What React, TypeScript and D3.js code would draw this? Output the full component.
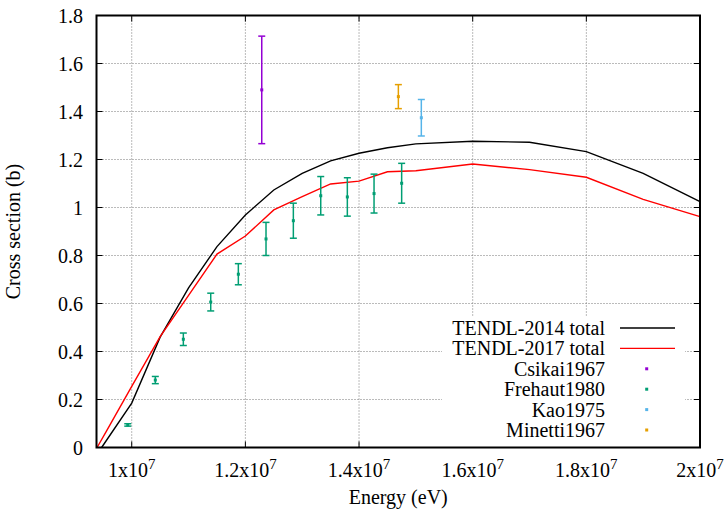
import React from 'react';
import * as d3 from 'd3';

// TENDL-2014 total
const tendl2014E = [9.47e6, 1.0e7, 1.05e7, 1.1e7, 1.15e7, 1.2e7, 1.25e7, 1.3e7, 1.35e7, 1.4e7, 1.45e7, 1.5e7, 1.6e7, 1.7e7, 1.8e7, 1.9e7, 2.0e7];
const tendl2014XS = [0, 0.185, 0.46, 0.665, 0.837, 0.969, 1.073, 1.142, 1.194, 1.226, 1.249, 1.265, 1.276, 1.272, 1.233, 1.1425, 1.024];
// TENDL-2017 total
const tendl2017E = [9.39e6, 9.55e6, 1.0e7, 1.05e7, 1.1e7, 1.15e7, 1.2e7, 1.25e7, 1.3e7, 1.35e7, 1.4e7, 1.45e7, 1.5e7, 1.6e7, 1.7e7, 1.8e7, 1.9e7, 2.0e7];
const tendl2017XS = [0, 0.066, 0.255, 0.462, 0.634, 0.806, 0.881, 0.99, 1.045, 1.098, 1.11, 1.149, 1.153, 1.181, 1.158, 1.126, 1.034, 0.962];
// Experimental
const csikaiE = [1.2288e7];
const csikaiXS = [1.49];
const csikaiErr = [0.224];
const frehautE = [9.93e6, 1.0415e7, 1.0908e7, 1.139e7, 1.1876e7, 1.2363e7, 1.2844e7, 1.3326e7, 1.3794e7, 1.4264e7, 1.475e7];
const frehautXS = [0.094, 0.281, 0.451, 0.606, 0.722, 0.869, 0.945, 1.049, 1.044, 1.058, 1.101];
const frehautErr = [0.005, 0.015, 0.026, 0.037, 0.044, 0.069, 0.073, 0.08, 0.08, 0.081, 0.083];
const kaoE = [1.5096e7];
const kaoXS = [1.374];
const kaoErr = [0.076];
const minettiE = [1.4692e7];
const minettiXS = [1.462];
const minettiErr = [0.05];

const xTicks = [1.0e7, 1.2e7, 1.4e7, 1.6e7, 1.8e7, 2.0e7];
const xTickMant = ['1', '1.2', '1.4', '1.6', '1.8', '2'];
const yTicks = [0, 0.2, 0.4, 0.6, 0.8, 1.0, 1.2, 1.4, 1.6, 1.8];
const yTickLabels = ['0', '0.2', '0.4', '0.6', '0.8', '1', '1.2', '1.4', '1.6', '1.8'];

const W = 728, H = 510;
const L = 96.5, R = 700, T = 15.5, B = 447.5;
const FONT = '"Liberation Serif", "Times New Roman", serif';
const FS = 20;

export default function App() {
  const x = d3.scaleLinear().domain([9.38e6, 2.0e7]).range([L, R]);
  const y = d3.scaleLinear().domain([0, 1.8]).range([B, T]);
  const line = d3.line<[number, number]>().x(d => x(d[0])).y(d => y(d[1]));
  const d14 = line(tendl2014E.map((e, i) => [e, tendl2014XS[i]]))!;
  const d17 = line(tendl2017E.map((e, i) => [e, tendl2017XS[i]]))!;

  const exps = [
    { name: 'Csikai1967', color: '#9400d3', E: csikaiE, XS: csikaiXS, Err: csikaiErr },
    { name: 'Frehaut1980', color: '#009e73', E: frehautE, XS: frehautXS, Err: frehautErr },
    { name: 'Kao1975', color: '#56b4e9', E: kaoE, XS: kaoXS, Err: kaoErr },
    { name: 'Minetti1967', color: '#e69f00', E: minettiE, XS: minettiXS, Err: minettiErr },
  ];

  const legendTextX = 605;
  const legendRow0 = 328;
  const rowH = 20.4;
  const tickLen = 6;

  return (
    <div style={{ position: 'fixed', left: 0, top: 0, width: W, height: H, background: '#fff' }}>
      <svg width={W} height={H} style={{ display: 'block', fontFamily: FONT }}>
        <rect x={0} y={0} width={W} height={H} fill="#fff" />
        {/* grid */}
        <g stroke="#777" strokeWidth={1} strokeDasharray="1,2">
          {xTicks.filter(t => x(t) < R - 1).map((t, i) => (
            <line key={'gx' + i} x1={x(t)} x2={x(t)} y1={B} y2={T} />
          ))}
          {yTicks.filter(t => y(t) < B - 1 && y(t) > T + 1).map((t, i) => (
            <line key={'gy' + i} x1={L} x2={R} y1={y(t)} y2={y(t)} />
          ))}
        </g>
        {/* ticks */}
        <g stroke="#000" strokeWidth={1}>
          {xTicks.map((t, i) => (
            <g key={'tx' + i}>
              <line x1={x(t)} x2={x(t)} y1={B} y2={B - tickLen} />
              <line x1={x(t)} x2={x(t)} y1={T} y2={T + tickLen} />
            </g>
          ))}
          {yTicks.map((t, i) => (
            <g key={'ty' + i}>
              <line x1={L} x2={L + tickLen} y1={y(t)} y2={y(t)} />
              <line x1={R} x2={R - tickLen} y1={y(t)} y2={y(t)} />
            </g>
          ))}
        </g>
        {/* curves */}
        <path d={d14} fill="none" stroke="#000" strokeWidth={1.4} />
        <path d={d17} fill="none" stroke="#ff0000" strokeWidth={1.4} />
        {/* experimental error bars */}
        {exps.map(s => (
          <g key={s.name} stroke={s.color} fill={s.color} strokeWidth={1.5}>
            {s.E.map((e, i) => {
              const cx = x(e);
              const y1 = y(s.XS[i] + s.Err[i]);
              const y2 = y(s.XS[i] - s.Err[i]);
              const cy = y(s.XS[i]);
              return (
                <g key={i}>
                  <line x1={cx} x2={cx} y1={y1} y2={y2} />
                  <line x1={cx - 3.5} x2={cx + 3.5} y1={y1} y2={y1} />
                  <line x1={cx - 3.5} x2={cx + 3.5} y1={y2} y2={y2} />
                  <rect x={cx - 1.5} y={cy - 1.5} width={3} height={3} stroke="none" />
                </g>
              );
            })}
          </g>
        ))}
        {/* legend */}
        <rect x={442} y={316} width={243} height={B - 316} fill="#fff" />
        <g fontSize={FS} textAnchor="end" fill="#000">
          <text x={legendTextX} y={legendRow0} dy="0.35em">TENDL-2014 total</text>
          <line x1={620} x2={675} y1={legendRow0} y2={legendRow0} stroke="#000" strokeWidth={1.4} />
          <text x={legendTextX} y={legendRow0 + rowH} dy="0.35em">TENDL-2017 total</text>
          <line x1={620} x2={675} y1={legendRow0 + rowH} y2={legendRow0 + rowH} stroke="#ff0000" strokeWidth={1.4} />
          {exps.map((s, i) => (
            <g key={'lg' + s.name}>
              <text x={legendTextX} y={legendRow0 + rowH * (i + 2)} dy="0.35em">{s.name}</text>
              <rect x={646.7 - 1.5} y={legendRow0 + rowH * (i + 2) - 1.5} width={3} height={3} fill={s.color} />
            </g>
          ))}
        </g>
        {/* border */}
        <rect x={L} y={T} width={R - L} height={B - T} fill="none" stroke="#000" strokeWidth={2} />
        {/* y tick labels */}
        <g fontSize={FS} textAnchor="end" fill="#000">
          {yTicks.map((t, i) => (
            <text key={'yl' + i} x={83} y={y(t)} dy="0.35em">{yTickLabels[i]}</text>
          ))}
        </g>
        {/* x tick labels */}
        <g fontSize={FS} textAnchor="middle" fill="#000">
          {xTicks.map((t, i) => (
            <text key={'xl' + i} x={x(t)} y={477}>
              {xTickMant[i]}x10<tspan fontSize={15} dy={-8}>7</tspan>
            </text>
          ))}
        </g>
        {/* axis titles */}
        <text x={(L + R) / 2} y={504} fontSize={FS} textAnchor="middle">Energy (eV)</text>
        <text transform={`translate(20,${(T + B) / 2}) rotate(-90)`} fontSize={FS} textAnchor="middle">Cross section (b)</text>
      </svg>
    </div>
  );
}
